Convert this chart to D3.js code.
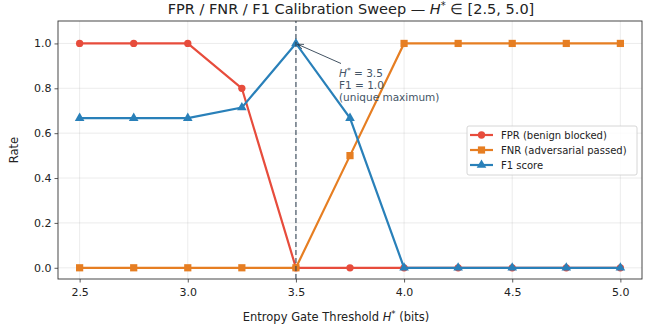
<!DOCTYPE html>
<html>
<head>
<meta charset="utf-8">
<script src="https://cdn.jsdelivr.net/npm/d3@7"></script>
<style>
  body { margin: 0; background: #fff; }
  text { font-family: "DejaVu Sans", sans-serif; }
</style>
</head>
<body>
<div id="chart"></div>
<script>
var thresholds = [2.5, 2.75, 3.0, 3.25, 3.5, 3.75, 4.0, 4.25, 4.5, 4.75, 5.0];
var fpr = [1, 1, 1, 0.8, 0, 0, 0, 0, 0, 0, 0];
var fnr = [0, 0, 0, 0, 0, 0.5, 1, 1, 1, 1, 1];
var f1 = [0.667, 0.667, 0.667, 0.714, 1.0, 0.667, 0, 0, 0, 0, 0];
var xTicks = [2.5, 3.0, 3.5, 4.0, 4.5, 5.0];
var yTicks = [0, 0.2, 0.4, 0.6, 0.8, 1.0];
var bestH = 3.5, bestF1 = 1.0;

var width = 651, height = 331;
var margin = {left: 58, right: 9, top: 21, bottom: 52};

var svg = d3.select('#chart').append('svg')
    .attr('width', width)
    .attr('height', height);

var x = d3.scaleLinear()
    .domain([2.4, 5.1])
    .range([margin.left, width - margin.right]);
var y = d3.scaleLinear()
    .domain([-0.05, 1.1])
    .range([height - margin.bottom, margin.top]);

var g = svg.append('g');

// grid
g.selectAll('.gx').data(xTicks).enter().append('line')
    .attr('x1', function (d) { return x(d) }).attr('x2', function (d) { return x(d) })
    .attr('y1', y.range()[0]).attr('y2', y.range()[1])
    .style('stroke', '#b0b0b0').style('stroke-opacity', 0.3).style('stroke-width', 0.8);
g.selectAll('.gy').data(yTicks).enter().append('line')
    .attr('y1', function (d) { return y(d) }).attr('y2', function (d) { return y(d) })
    .attr('x1', x.range()[0]).attr('x2', x.range()[1])
    .style('stroke', '#b0b0b0').style('stroke-opacity', 0.3).style('stroke-width', 0.8);

// axes
var xAxis = d3.axisBottom(x).tickValues(xTicks).tickFormat(d3.format('.1f')).tickSize(3.5).tickSizeOuter(0);
var yAxis = d3.axisLeft(y).tickValues(yTicks).tickFormat(d3.format('.1f')).tickSize(3.5).tickSizeOuter(0);

var gx = svg.append('g').attr('transform', 'translate(0,' + y.range()[0] + ')').call(xAxis);
var gy = svg.append('g').attr('transform', 'translate(' + x.range()[0] + ',0)').call(yAxis);
[gx, gy].forEach(function (a) {
    a.select('.domain').remove();
    a.selectAll('line').style('stroke', '#333').style('stroke-width', 0.8);
    a.selectAll('text').style('font-size', '11px').style('fill', '#222');
});
gx.selectAll('text').attr('dy', '0.95em');

var series = [
    {name: 'FPR (benign blocked)', values: fpr, color: '#e74c3c', marker: d3.symbolCircle, size: 42},
    {name: 'FNR (adversarial passed)', values: fnr, color: '#e67e22', marker: d3.symbolSquare, size: 52},
    {name: 'F1 score', values: f1, color: '#2980b9', marker: d3.symbolTriangle, size: 40}
];

var line = d3.line()
    .x(function (d) { return x(d[0]) })
    .y(function (d) { return y(d[1]) });

series.forEach(function (s) {
    var pts = thresholds.map(function (t, i) { return [t, s.values[i]] });
    g.append('path')
        .datum(pts)
        .attr('d', line)
        .style('fill', 'none')
        .style('stroke', s.color)
        .style('stroke-width', 2.2);
    g.selectAll(null).data(pts).enter().append('path')
        .attr('transform', function (d) { return 'translate(' + x(d[0]) + ',' + y(d[1]) + ')' })
        .attr('d', d3.symbol().type(s.marker).size(s.size))
        .style('fill', s.color);
});

// best threshold marker
g.append('line')
    .attr('x1', x(bestH)).attr('x2', x(bestH))
    .attr('y1', y.range()[0]).attr('y2', y.range()[1])
    .style('stroke', '#2c3e50').style('stroke-opacity', 0.7)
    .style('stroke-width', 1.5).style('stroke-dasharray', '5,3');

// frame
svg.append('rect')
    .attr('x', x.range()[0]).attr('y', y.range()[1])
    .attr('width', x.range()[1] - x.range()[0])
    .attr('height', y.range()[0] - y.range()[1])
    .style('fill', 'none').style('stroke', '#333').style('stroke-width', 0.9);

// annotation
svg.append('defs').append('marker')
    .attr('id', 'arr').attr('viewBox', '0 0 10 10').attr('refX', 9).attr('refY', 5)
    .attr('markerWidth', 7).attr('markerHeight', 7).attr('orient', 'auto')
    .append('path').attr('d', 'M0,1 L10,5 L0,9').style('fill', 'none').style('stroke', '#2c3e50').style('stroke-width', 1.2);

var tx = 339, ty = 76.5;
g.append('line')
    .attr('x1', tx + 2).attr('y1', ty - 13)
    .attr('x2', x(bestH) + 2).attr('y2', y(bestF1) + 1)
    .style('stroke', '#2c3e50').style('stroke-width', 0.9)
    .attr('marker-end', 'url(#arr)');

var ann = g.append('text').attr('x', tx).attr('y', ty)
    .style('font-size', '10.5px').style('fill', '#445566');
var l1 = ann.append('tspan').attr('x', tx);
l1.append('tspan').style('font-style', 'italic').text('H');
l1.append('tspan').attr('dy', -4).style('font-size', '7.5px').text('*');
l1.append('tspan').attr('dy', 4).text(' = 3.5');
ann.append('tspan').attr('x', tx).attr('dy', 12).text('F1 = 1.0');
ann.append('tspan').attr('x', tx).attr('dy', 12).text('(unique maximum)');

// legend
var lg = svg.append('g').attr('transform', 'translate(467,126)');
lg.append('rect').attr('width', 170).attr('height', 49).attr('rx', 2)
    .style('fill', '#fff').style('fill-opacity', 0.85).style('stroke', '#ccc').style('stroke-width', 0.8);
series.forEach(function (s, i) {
    var yy = 9 + i * 15;
    lg.append('line').attr('x1', 3).attr('x2', 26).attr('y1', yy).attr('y2', yy)
        .style('stroke', s.color).style('stroke-width', 2.2);
    lg.append('path').attr('transform', 'translate(14.5,' + yy + ')')
        .attr('d', d3.symbol().type(s.marker).size(s.size))
        .style('fill', s.color);
    lg.append('text').attr('x', 34).attr('y', yy).attr('dy', '0.35em')
        .style('font-size', '10px').style('fill', '#222').text(s.name);
});

// titles
var title = svg.append('text').attr('x', 351).attr('y', 14)
    .attr('text-anchor', 'middle').style('font-size', '14.5px').style('fill', '#222');
title.append('tspan').text('FPR / FNR / F1 Calibration Sweep \u2014 ');
title.append('tspan').style('font-style', 'italic').text('H');
title.append('tspan').attr('dy', -5).style('font-size', '10px').text('*');
title.append('tspan').attr('dy', 5).text(' \u2208 [2.5, 5.0]');

var xl = svg.append('text').attr('x', 336).attr('y', 321)
    .attr('text-anchor', 'middle').style('font-size', '11.5px').style('fill', '#222');
xl.append('tspan').text('Entropy Gate Threshold ');
xl.append('tspan').style('font-style', 'italic').text('H');
xl.append('tspan').attr('dy', -4).style('font-size', '8.5px').text('*');
xl.append('tspan').attr('dy', 4).text(' (bits)');

svg.append('text').attr('transform', 'translate(18,' + ((y.range()[0] + y.range()[1]) / 2) + ') rotate(-90)')
    .attr('text-anchor', 'middle').style('font-size', '11.5px').style('fill', '#222').text('Rate');
</script>
</body>
</html>
